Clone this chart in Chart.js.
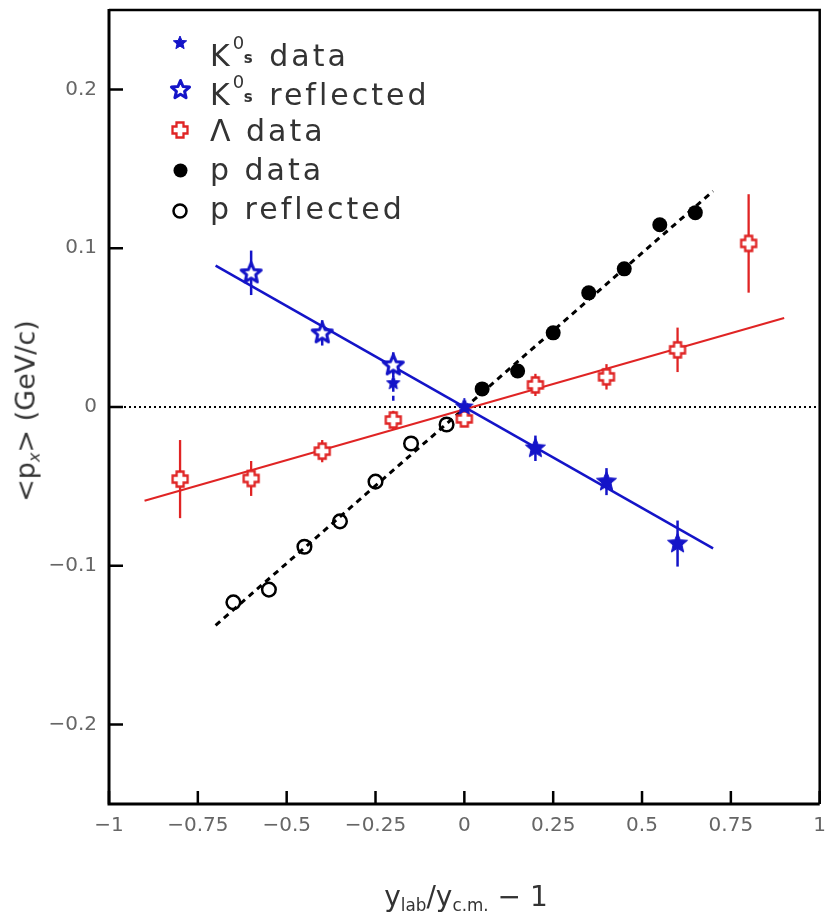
<!DOCTYPE html>
<html><head><meta charset="utf-8">
<script src="https://cdn.jsdelivr.net/npm/chart.js@4.4.1/dist/chart.umd.min.js"></script>
<style>
html,body{margin:0;padding:0;background:#fff;}
#wrap{position:relative;width:829px;height:918px;overflow:hidden;font-family:"DejaVu Sans",sans-serif;}
#c{position:absolute;left:0;top:0;}
.leg{position:absolute;left:210px;font-size:30px;line-height:34px;color:#333;letter-spacing:3px;white-space:nowrap;}
.icon{position:absolute;}
.ks{display:inline-block;position:relative;width:24px;height:1em;vertical-align:baseline;}
.ks .s0{position:absolute;left:0px;top:-3px;font-size:18px;letter-spacing:0;line-height:20px;}
.ks .ss{position:absolute;left:11px;top:13px;font-size:15px;font-weight:bold;letter-spacing:0;line-height:18px;}
#ytitle{position:absolute;left:30px;top:411px;transform:translate(-50%,-50%) rotate(-90deg);font-size:27px;color:#333;white-space:nowrap;line-height:34px;}
#xtitle{position:absolute;left:466px;top:880px;transform:translateX(-50%);font-size:28px;color:#333;white-space:nowrap;line-height:34px;}
sub{font-size:0.6em;vertical-align:-0.3em;}
</style></head>
<body>
<div id="wrap">
<canvas id="c" width="829" height="918"></canvas>
<div class="leg" style="top:36px">K<span class="ks"><span class="s0">0</span><span class="ss">s</span></span> data</div>
<div class="leg" style="top:75px">K<span class="ks"><span class="s0">0</span><span class="ss">s</span></span> reflected</div>
<div class="leg" style="top:114px">Λ data</div>
<div class="leg" style="top:153px">p data</div>
<div class="leg" style="top:192px">p reflected</div>
<div id="ytitle">&lt;p<sub style="font-style:italic">x</sub>&gt; (GeV/c)</div>
<div id="xtitle">y<sub>lab</sub>/y<sub>c.m.</sub> − 1</div>
</div>
<script>
// ---- tick values and labels ----
const xTicks = [-1, -0.75, -0.5, -0.25, 0, 0.25, 0.5, 0.75, 1];
const xTickLabels = ['−1', '−0.75', '−0.5', '−0.25', '0', '0.25', '0.5', '0.75', '1'];
const yTicks = [-0.2, -0.1, 0, 0.1, 0.2];
const yTickLabels = ['−0.2', '−0.1', '0', '0.1', '0.2'];

// ---- K0s data ----
const k0DataX = [-0.2, 0, 0.2, 0.4, 0.6];
const k0DataY = [0.015, 0.0, -0.026, -0.047, -0.086];
const k0DataErr = [0.011, 0.003, 0.008, 0.0085, 0.0145];

// ---- K0s reflected ----
const k0ReflX = [-0.6, -0.4, -0.2];
const k0ReflY = [0.0845, 0.0467, 0.0265];
const k0ReflErr = [0.014, 0.008, 0.008];

// ---- Lambda data ----
const lamX = [-0.8, -0.6, -0.4, -0.2, 0, 0.2, 0.4, 0.6, 0.8];
const lamY = [-0.0454, -0.0450, -0.0278, -0.0082, -0.0075, 0.0139, 0.019, 0.036, 0.103];
const lamErr = [0.0246, 0.011, 0.007, 0.0058, 0.004, 0.007, 0.008, 0.014, 0.031];

// ---- proton data ----
const pDataX = [0.05, 0.15, 0.25, 0.35, 0.45, 0.55, 0.65];
const pDataY = [0.0114, 0.0227, 0.0467, 0.0719, 0.087, 0.1148, 0.1224];

// ---- proton reflected ----
const pReflX = [-0.05, -0.15, -0.25, -0.35, -0.45, -0.55, -0.65];
const pReflY = [-0.011, -0.023, -0.047, -0.072, -0.088, -0.115, -0.123];

// ---- fit lines ----
const k0FitX = [-0.7, 0.7];
const k0FitY = [0.089, -0.089];
const lamFitX = [-0.9, 0.9];
const lamFitY = [-0.059, 0.056];
const pFitX = [-0.7, 0.7];
const pFitY = [-0.1375, 0.136];
const zeroX = [-1, 1];
const zeroY = [0, 0];

const BLUE = '#1414c8';
const RED = '#e02424';

function pts(xs, ys) { return xs.map((x, i) => ({ x: x, y: ys[i] })); }

function makeCanvas(size, draw) {
  const c = document.createElement('canvas');
  c.width = size; c.height = size;
  const g = c.getContext('2d');
  draw(g, size / 2);
  return c;
}
function starPath(g, cx, cy, R, r) {
  g.beginPath();
  for (let i = 0; i < 10; i++) {
    const ang = -Math.PI / 2 + i * Math.PI / 5;
    const rad = i % 2 ? r : R;
    g.lineTo(cx + rad * Math.cos(ang), cy + rad * Math.sin(ang));
  }
  g.closePath();
}
function filledStar(R) {
  const s = Math.ceil(2 * R + 4);
  return makeCanvas(s, (g, c) => {
    starPath(g, c, c, R, R * 0.45);
    g.fillStyle = BLUE; g.fill();
    g.lineWidth = 1; g.strokeStyle = BLUE; g.stroke();
  });
}
function openStar(R) {
  const s = Math.ceil(2 * R + 6);
  return makeCanvas(s, (g, c) => {
    starPath(g, c, c + 0.5, R, R * 0.45);
    g.fillStyle = '#fff'; g.fill();
    g.lineWidth = 3; g.lineJoin = 'round'; g.strokeStyle = BLUE; g.stroke();
  });
}
function openCross(L, a) {
  const s = Math.ceil(2 * L + 5);
  return makeCanvas(s, (g, c) => {
    g.beginPath();
    g.moveTo(c - a, c - L); g.lineTo(c + a, c - L); g.lineTo(c + a, c - a);
    g.lineTo(c + L, c - a); g.lineTo(c + L, c + a); g.lineTo(c + a, c + a);
    g.lineTo(c + a, c + L); g.lineTo(c - a, c + L); g.lineTo(c - a, c + a);
    g.lineTo(c - L, c + a); g.lineTo(c - L, c - a); g.lineTo(c - a, c - a);
    g.closePath();
    g.fillStyle = '#fff'; g.fill();
    g.lineWidth = 2.3; g.strokeStyle = RED; g.stroke();
  });
}
function circleIcon(r, filled) {
  const s = Math.ceil(2 * r + 5);
  return makeCanvas(s, (g, c) => {
    g.beginPath(); g.arc(c, c, r, 0, Math.PI * 2);
    if (filled) { g.fillStyle = '#000'; g.fill(); }
    else { g.lineWidth = 2.5; g.strokeStyle = '#000'; g.stroke(); }
  });
}

const starBig = filledStar(10.5);
const starMid = filledStar(9);
const starSmall = filledStar(7);
const starOpen = openStar(10.5);
const crossOpen = openCross(7.5, 3.5);

// legend icons
function placeIcon(cv, cx, cy) {
  cv.className = 'icon';
  cv.style.left = (cx - cv.width / 2) + 'px';
  cv.style.top = (cy - cv.height / 2) + 'px';
  document.getElementById('wrap').appendChild(cv);
}
placeIcon(filledStar(7), 180, 43);
placeIcon(openStar(9.5), 180, 89);
placeIcon(openCross(7.5, 3.5), 180, 130);
placeIcon(circleIcon(7, true), 180, 170);
placeIcon(circleIcon(6.5, false), 180, 211);

const errorBars = {
  id: 'errorBars',
  beforeDatasetsDraw(chart) {
    const ctx = chart.ctx, xs = chart.scales.x, ys = chart.scales.y;
    chart.data.datasets.forEach((ds, di) => {
      if (!ds.errors) return;
      ctx.save();
      ctx.strokeStyle = ds.errorColor; ctx.lineWidth = ds.errorWidth;
      ds.data.forEach((p, i) => {
        const e = ds.errors[i]; if (!e) return;
        const x = xs.getPixelForValue(p.x);
        const y1 = ys.getPixelForValue(p.y - e), y2 = ys.getPixelForValue(p.y + e);
        ctx.setLineDash(ds.errorDash && ds.errorDash[i] ? ds.errorDash[i] : []);
        ctx.beginPath(); ctx.moveTo(x, y1); ctx.lineTo(x, y2); ctx.stroke();
      });
      ctx.restore();
    });
  }
};

const frame = {
  id: 'frame',
  afterDraw(chart) {
    const ctx = chart.ctx, a = chart.chartArea, x = chart.scales.x, y = chart.scales.y;
    ctx.save();
    ctx.strokeStyle = '#000'; ctx.setLineDash([]);
    ctx.lineWidth = 2.5;
    ctx.beginPath(); ctx.moveTo(a.left, a.top); ctx.lineTo(a.right, a.top); ctx.lineTo(a.right, a.bottom); ctx.stroke();
    ctx.lineWidth = 3;
    ctx.beginPath(); ctx.moveTo(a.left, a.top - 1); ctx.lineTo(a.left, a.bottom); ctx.lineTo(a.right, a.bottom); ctx.stroke();
    ctx.lineWidth = 2.5;
    ctx.beginPath();
    yTicks.forEach(v => { const py = y.getPixelForValue(v); ctx.moveTo(a.left, py); ctx.lineTo(a.left + 14, py); });
    xTicks.forEach(v => { const px = x.getPixelForValue(v); ctx.moveTo(px, a.bottom); ctx.lineTo(px, a.bottom - 13); });
    ctx.stroke();
    ctx.restore();
  }
};

new Chart(document.getElementById('c'), {
  type: 'scatter',
  data: {
    datasets: [
      { label: 'K0s data', data: pts(k0DataX, k0DataY), pointStyle: [starSmall, starMid, starBig, starBig, starBig], pointRadius: 8,
        errors: k0DataErr, errorColor: BLUE, errorWidth: 2.5, errorDash: [[5, 4], null, null, null, null] },
      { label: 'K0s reflected', data: pts(k0ReflX, k0ReflY), pointStyle: starOpen, pointRadius: 8,
        errors: k0ReflErr, errorColor: BLUE, errorWidth: 2.5 },
      { label: 'Λ data', data: pts(lamX, lamY), pointStyle: crossOpen, pointRadius: 8,
        errors: lamErr, errorColor: RED, errorWidth: 2.3 },
      { label: 'p data', data: pts(pDataX, pDataY), pointStyle: 'circle', pointRadius: 7.5,
        backgroundColor: '#000', borderColor: '#000', borderWidth: 0 },
      { label: 'p reflected', data: pts(pReflX, pReflY), pointStyle: 'circle', pointRadius: 6.8,
        backgroundColor: 'rgba(0,0,0,0)', borderColor: '#000', borderWidth: 2.5 },
      { label: 'K0s fit', data: pts(k0FitX, k0FitY), showLine: true, pointRadius: 0, borderColor: BLUE, borderWidth: 2.5 },
      { label: 'Λ fit', data: pts(lamFitX, lamFitY), showLine: true, pointRadius: 0, borderColor: RED, borderWidth: 2 },
      { label: 'p fit', data: pts(pFitX, pFitY), showLine: true, pointRadius: 0, borderColor: '#000', borderWidth: 3, borderDash: [6, 5] },
      { label: 'zero', data: pts(zeroX, zeroY), showLine: true, pointRadius: 0, borderColor: '#000', borderWidth: 2, borderDash: [2, 3] }
    ]
  },
  options: {
    responsive: false,
    animation: false,
    events: [],
    layout: { padding: { top: 10, right: 2, left: 0, bottom: 0 } },
    plugins: { legend: { display: false }, tooltip: { enabled: false }, title: { display: false } },
    scales: {
      x: {
        type: 'linear', min: -1, max: 1,
        grid: { display: false, drawTicks: false }, border: { display: false },
        afterBuildTicks: s => { s.ticks = xTicks.map(v => ({ value: v })); },
        afterFit: s => { s.height = 114; s.paddingLeft = 0; s.paddingRight = 0; },
        ticks: { callback: (v, i) => xTickLabels[i], autoSkip: false, maxRotation: 0, minRotation: 0, padding: 10,
          color: '#666', font: { family: 'DejaVu Sans', size: 20 } }
      },
      y: {
        type: 'linear', min: -0.25, max: 0.25,
        grid: { display: false, drawTicks: false }, border: { display: false },
        afterBuildTicks: s => { s.ticks = yTicks.map(v => ({ value: v })); },
        afterFit: s => { s.width = 109; s.paddingTop = 0; s.paddingBottom = 0; },
        ticks: { callback: (v, i) => yTickLabels[i], autoSkip: false, padding: 12,
          color: '#666', font: { family: 'DejaVu Sans', size: 20 } }
      }
    }
  },
  plugins: [errorBars, frame]
});
</script>
</body></html>
